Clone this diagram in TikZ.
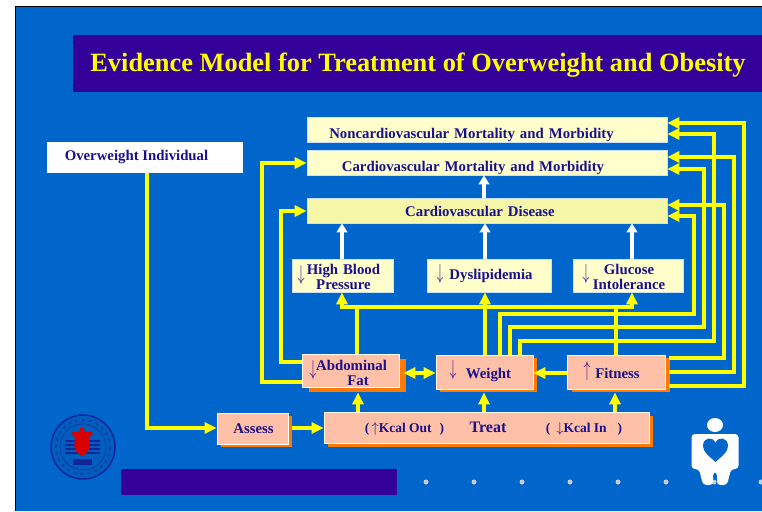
\documentclass[tikz,border=0pt]{standalone}
\usepackage{fontspec}
\setmainfont{Liberation Serif}
\usepackage{xcolor}
\usepackage{graphicx}
\usetikzlibrary{arrows.meta,shadows}
\definecolor{slideblue}{HTML}{0066CC}
\definecolor{bandblue}{HTML}{330099}
\definecolor{inkblue}{HTML}{1A0F8C}
\definecolor{markpurple}{HTML}{3A0A8C}
\definecolor{paleyellow}{HTML}{FFFFCC}
\definecolor{cvdyellow}{HTML}{F6F6A8}
\definecolor{peach}{HTML}{FFC0A8}
\definecolor{shadoworange}{HTML}{FF7A00}
\definecolor{linkyellow}{HTML}{FFFF00}
\newcommand{\lowered}[2]{\raisebox{-#1}[0pt][0pt]{#2}}
\newcommand{\twolines}[3]{\lowered{#1}{\begin{tabular}{@{}c@{}}#2\\#3\end{tabular}}}
\newcommand{\dnsign}{\scalebox{0.8}[1.25]{$\downarrow$}}
\newcommand{\upsign}{\scalebox{0.8}[1.25]{$\uparrow$}}
\tikzset{
    boxtext/.style={text=inkblue, inner sep=0pt, font=\bfseries\fontsize{14.8}{15}\selectfont, align=center},
    outcome/.style={boxtext, draw=white!80!slideblue, line width=0.7pt, fill=paleyellow, text width=#1, minimum height=25pt},
    factor/.style={boxtext, draw=white!80!slideblue, line width=0.7pt, fill=paleyellow, minimum height=33pt, text width=#1},
    action/.style={boxtext, draw=white, line width=0.8pt, fill=peach, text width=#1},
    offset/.style 2 args={drop shadow={shadow xshift=#1pt, shadow yshift=#2pt, fill=shadoworange, opacity=1}},
    link/.style={draw=linkyellow, line width=3.5pt, -{Triangle[length=12pt,width=11pt]}},
    linkboth/.style={draw=linkyellow, line width=3.5pt, {Triangle[length=12pt,width=11pt]}-{Triangle[length=12pt,width=11pt]}},
    whitelink/.style={draw=white, line width=3.5pt, -{Triangle[length=9pt,width=10.5pt]}},
    sign/.style={text=markpurple, inner sep=0pt, font=\fontsize{16}{16}\selectfont},
    kcal/.style={text=inkblue, inner sep=0pt, font=\bfseries\fontsize{13.5}{14}\selectfont},
    dot/.style={circle, fill=black!20, inner sep=0pt, minimum size=5pt},
}
\begin{document}
\begin{tikzpicture}[x=1pt,y=-1pt]
    \useasboundingbox (0,0) rectangle (762,511);
    % Slide
    \fill[white] (0,0) rectangle (762,511);
    \fill[slideblue] (15,6) rectangle (762,511);
    \draw[black, line width=1.2pt] (15.5,511) -- (15.5,6.5) -- (762,6.5);
    \fill[bandblue] (73,35) rectangle (762,92);
    \node[text=linkyellow, font=\bfseries\fontsize{26.4}{30}\selectfont, inner sep=0pt] (title) at (418,65) {Evidence Model for Treatment of Overweight and Obesity};
    \fill[bandblue] (121,469) rectangle (397,495);
    \foreach \px in {426,474,522,570,618,666,714,761}
        \node[dot] (dot\px) at (\px,482) {};

    % Outcomes
    \node[outcome=360pt] (noncardio) at (487,129.5) {\lowered{8.5pt}{\hspace*{-31pt}Noncardiovascular Mortality and Morbidity}};
    \node[outcome=360pt] (cardio) at (487,162.5) {\lowered{9pt}{\hspace*{-28pt}Cardiovascular Mortality and Morbidity}};
    \node[outcome=360pt, fill=cvdyellow] (disease) at (487,210.5) {\lowered{5.5pt}{\hspace*{-14pt}Cardiovascular Disease}};
    \node[boxtext, fill=white, minimum width=196pt, minimum height=31pt] (person) at (145,157) {\hspace*{-17pt}Overweight Individual};

    % Risk factors
    \node[factor=101pt] (pressure) at (342.5,275.5) {\hspace*{2pt}\twolines{7pt}{High Blood}{Pressure}};
    \node[factor=124pt] (lipid) at (489,275.5) {\hspace*{4pt}Dyslipidemia};
    \node[factor=110pt] (glucose) at (628,275.5) {\hspace*{2pt}\twolines{7pt}{Glucose}{Intolerance}};
    \node[sign] (pressuresign) at (301,275) {\dnsign};
    \node[sign] (lipidsign) at (440,274) {\dnsign};
    \node[sign] (glucosesign) at (586,274) {\dnsign};

    % Treatment boxes
    \node[action=97pt, minimum height=33pt, offset={7}{-5}] (fat) at (350.5,370.5) {\twolines{8pt}{\hspace*{2pt}Abdominal}{\hspace*{15pt}Fat}};
    \node[action=97pt, minimum height=34pt, offset={4}{-3}] (weight) at (484.5,372) {\lowered{6.5pt}{\hspace*{8pt}Weight}};
    \node[action=98pt, minimum height=34pt, offset={4.5}{-3}] (fitness) at (616,372) {\lowered{6.5pt}{\hspace*{3pt}Fitness}};
    \node[action=71pt, minimum height=31pt, offset={4}{-3}] (assess) at (252.5,428.5) {\hspace*{2pt}Assess};
    \node[action=325pt, minimum height=31pt, offset={4}{-4}, font=\bfseries\fontsize{16}{16}\selectfont] (treat) at (486.5,427.5) {\hspace*{3pt}Treat};
    \node[sign] (fatsign) at (313,370) {\dnsign};
    \node[sign] (weightsign) at (453,370) {\dnsign};
    \node[sign] (fitnesssign) at (587,371) {\upsign};
    \node[kcal] (outlabel) at (404.5,428.5) {(\,$\uparrow$Kcal Out\hspace{8pt})};
    \node[kcal] (inlabel) at (584,428.5) {(\hspace{6pt}$\downarrow$Kcal In\hspace{11pt})};

    % White arrows
    \draw[whitelink] (disease.north -| 484,0) -- (cardio.south -| 484,0);
    \draw[whitelink] (pressure.north -| 342,0) -- (disease.south -| 342,0);
    \draw[whitelink] (lipid.north -| 485,0) -- (disease.south -| 485,0);
    \draw[whitelink] (glucose.north -| 632,0) -- (disease.south -| 632,0);

    % Yellow arrows, left side
    \draw[link] (person.south -| 147,0) |- (assess.west |- 0,428);
    \draw[link, shorten <=4pt] (assess.east |- 0,428) -- (treat.west |- 0,428);
    \draw[link, shorten >=5pt] (treat.north -| 358,0) -- (fat.south -| 358,0);
    \draw[link, shorten >=3pt] (treat.north -| 484,0) -- (weight.south -| 484,0);
    \draw[link, shorten >=3pt] (treat.north -| 615,0) -- (fitness.south -| 615,0);
    \draw[linkboth, shorten <=4pt] (fat.east |- 0,373) -- (weight.west |- 0,373);
    \draw[link] (fitness.west |- 0,373) -- (weight.east |- 0,373);
    \draw[link] (fat.west |- 0,362) -| (281,211) -- (disease.west |- 0,211);
    \draw[link] (fat.west |- 0,382) -| (262,163) -- (cardio.west |- 0,163);

    % Yellow arrows to the risk factors
    \draw[link] (weight.north -| 485,0) -- (lipid.south -| 485,0);
    \draw[link] (fat.north -| 357,0) -- (357,307) -- (342,307) -- (pressure.south -| 342,0);
    \draw[link] (fitness.north -| 616,0) -- (616,307) -- (632,307) -- (glucose.south -| 632,0);
    \draw[draw=linkyellow, line width=3.5pt] (342,307) -- (632,307);

    % Yellow arrows, right side
    \draw[link] (weight.north -| 500,0) |- (694,314) |- (disease.east |- 0,216);
    \draw[link] (weight.north -| 510,0) |- (704,327) |- (cardio.east |- 0,169);
    \draw[link] (weight.north -| 520,0) |- (714,341) |- (noncardio.east |- 0,134);
    \draw[link, shorten <=4pt] (fitness.east |- 0,358) -| (724,205) -- (disease.east |- 0,205);
    \draw[link, shorten <=4pt] (fitness.east |- 0,372) -| (734,157) -- (cardio.east |- 0,157);
    \draw[link, shorten <=4pt] (fitness.east |- 0,386) -| (744,123) -- (noncardio.east |- 0,123);

    % Seal
    \draw[fill=slideblue!92!black, draw=inkblue!75!slideblue, line width=1.5pt] (83,447) circle (32);
    \draw[inkblue!45!slideblue, line width=2pt, dash pattern=on 3pt off 4pt] (83,447) circle (27);
    \draw[inkblue!50!slideblue, line width=0.8pt] (83,447) circle (23);
    \foreach \py in {441,445,449,453}
        \draw[inkblue!75!slideblue, line width=2pt] (65,\py) -- (100,\py);
    \fill[red!85!black] (70,434) .. controls (74,430) and (78,433) .. (80,431) -- (80,428) -- (84,428) -- (84,431) .. controls (87,433) and (91,430) .. (94,434) .. controls (90,434) and (89,437) .. (89,441) .. controls (91,448) and (89,452) .. (82,456) .. controls (75,452) and (73,448) .. (75,441) .. controls (75,437) and (74,434) .. (70,434) -- cycle;
    \fill[inkblue!75!slideblue] (73,459) rectangle (92,465);

    % Person with heart
    \fill[white] (715,425) ellipse (8 and 7);
    \fill[white, rounded corners=3.5pt] (691.5,469) -- (691.5,434) -- (738.5,434) -- (738.5,469) -- (731,469) -- (727,485) -- (717,485) -- (717,472) -- (713,472) -- (713,485) -- (703,485) -- (699,469) -- cycle;
    \fill[slideblue] (715.5,462) .. controls (709,456) and (703,452) .. (703,446) .. controls (703,437) and (713,436) .. (715.5,443) .. controls (718,436) and (728,437) .. (728,446) .. controls (728,452) and (722,456) .. (715.5,462) -- cycle;
\end{tikzpicture}
\end{document}
